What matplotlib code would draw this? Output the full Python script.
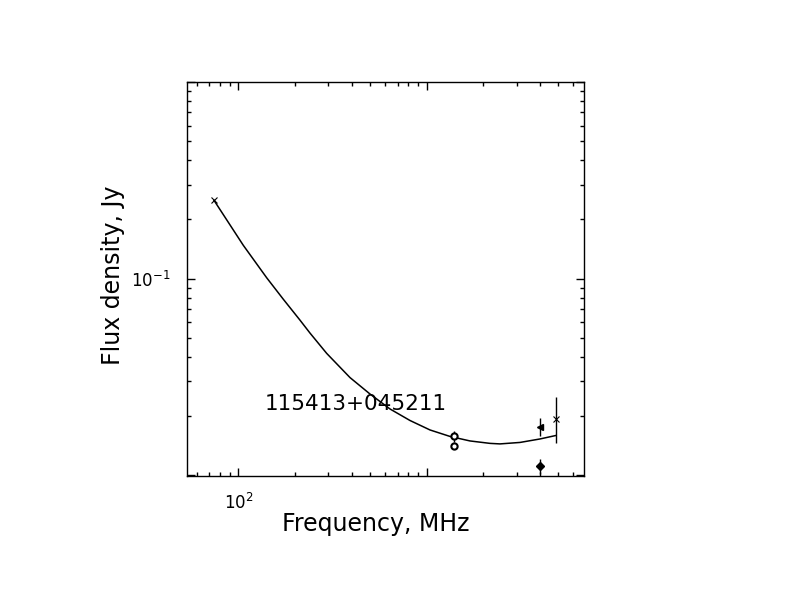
import numpy as np
import matplotlib
matplotlib.use("Agg")
import matplotlib.pyplot as plt
from matplotlib.ticker import FixedLocator, FixedFormatter, LogLocator, NullFormatter

# fitted spectrum
fit_freq = [74.3, 106.3, 141.5, 173.3, 212.6, 240.3, 294.6, 391.6, 500.0, 638.6,
            815.3, 1041, 1329, 1697, 2168, 2449, 3128, 3994, 4857]
fit_flux = [0.250, 0.1476, 0.1009, 0.0785, 0.06142, 0.05278, 0.04162, 0.03136, 0.02587,
            0.02171, 0.01897, 0.01698, 0.01574, 0.01493, 0.01451, 0.01442, 0.01467,
            0.01528, 0.01592]

# measurements
cross_freq = [74, 4850]
cross_flux = [0.250, 0.0192]
cross_err_lo = [0.0, 0.0047]
cross_err_hi = [0.0, 0.0058]

circ_freq = [1400, 1400]
circ_flux = [0.0158, 0.0141]
circ_err = [0.001, 0.0]

tri_freq = [4000]
tri_flux = [0.01765]
tri_err = [0.0019]

dia_freq = [4000]
dia_flux = [0.0111]
dia_err = [0.001]

source_name = "115413+045211"

plt.rcParams['mathtext.default'] = 'regular'

fig = plt.figure(figsize=(7.92, 6.12), dpi=100)
ax = fig.add_axes([0.2361, 0.2222, 0.5013, 0.6438])

ax.plot(fit_freq, fit_flux, color='black', lw=1.1)

ax.errorbar(cross_freq, cross_flux, yerr=[cross_err_lo, cross_err_hi], fmt='x',
            color='black', ms=5, mew=0.8, elinewidth=1.0, capsize=0)
ax.errorbar(circ_freq, circ_flux, yerr=circ_err, fmt='o', mfc='white', mec='black',
            color='black', ms=4.5, mew=1.5, elinewidth=1.0, capsize=0)
ax.errorbar(tri_freq, tri_flux, yerr=tri_err, fmt='<', color='black', ms=5,
            elinewidth=1.0, capsize=0)
ax.errorbar(dia_freq, dia_flux, yerr=dia_err, fmt='D', color='black', ms=4,
            elinewidth=1.0, capsize=0)

ax.set_xscale('log')
ax.set_yscale('log')
ax.set_xlim(53.4, 6840)
ax.set_ylim(0.0099, 1.0)

ax.xaxis.set_major_locator(FixedLocator([100, 1000]))
ax.xaxis.set_major_formatter(FixedFormatter(['10$^{2}$', '']))
ax.xaxis.set_minor_locator(LogLocator(base=10, subs=np.arange(2, 10)))
ax.xaxis.set_minor_formatter(NullFormatter())

ax.yaxis.set_major_locator(FixedLocator([0.01, 0.1, 1.0]))
ax.yaxis.set_major_formatter(FixedFormatter(['', '10$^{-1}$', '']))
ax.yaxis.set_minor_locator(LogLocator(base=10, subs=np.arange(2, 10)))
ax.yaxis.set_minor_formatter(NullFormatter())

ax.tick_params(which='both', direction='in', top=True, right=True, width=1.0,
               labelsize=12, colors='black')
ax.tick_params(which='major', length=6, pad=12)
ax.tick_params(which='minor', length=3)
for s in ax.spines.values():
    s.set_linewidth(1.0)

ax.text(138.6, 0.0230, source_name, fontsize=15.5, va='center', ha='left')

fig.text(376 / 792, 1 - 524 / 612, "Frequency, MHz", fontsize=17, ha='center', va='center')
fig.text(113 / 792, 1 - 275 / 612, "Flux density, Jy", fontsize=17, ha='center',
         va='center', rotation=90)

fig.savefig("out.png", dpi=100)
